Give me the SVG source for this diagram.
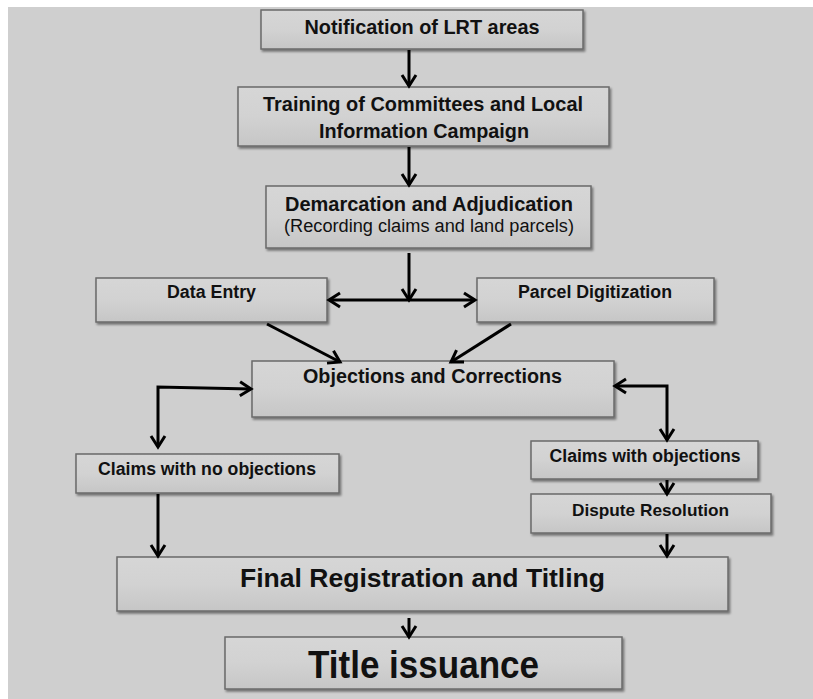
<svg xmlns="http://www.w3.org/2000/svg" width="813" height="699" viewBox="0 0 813 699">
<defs>
<linearGradient id="boxfill" x1="0" y1="0" x2="0" y2="1">
<stop offset="0" stop-color="#d6d6d6"/>
<stop offset="0.5" stop-color="#d2d2d2"/>
<stop offset="1" stop-color="#c6c6c6"/>
</linearGradient>
<filter id="shadow" x="-10%" y="-20%" width="120%" height="150%">
<feDropShadow dx="1.5" dy="2" stdDeviation="1.2" flood-color="#000" flood-opacity="0.45"/>
</filter>
<marker id="arrow" markerUnits="userSpaceOnUse" markerWidth="18" markerHeight="18" viewBox="0 0 18 18" refX="14" refY="9" orient="auto-start-reverse">
<path d="M3,2 L14,9 L3,16" fill="none" stroke="#000" stroke-width="3" stroke-linejoin="miter"/>
</marker>
</defs>
<style>
.box{fill:url(#boxfill);stroke:#6a6a6a;stroke-width:1.5;filter:url(#shadow)}
.t{font-family:"Liberation Sans Narrow","Liberation Sans",sans-serif;font-weight:bold;fill:#111;text-anchor:middle}
.r{font-weight:normal}
.c{fill:none;stroke:#000;stroke-width:3;marker-end:url(#arrow)}
.d{marker-start:url(#arrow)}
</style>
<rect x="8" y="7" width="805" height="692" fill="#cfcfcf"/>

<g id="n1">
<rect class="box" x="261" y="10" width="322" height="39"/>
<text class="t" x="422" y="34" font-size="21" textLength="235" lengthAdjust="spacingAndGlyphs">Notification of LRT areas</text>
</g>
<g id="n2">
<rect class="box" x="238" y="87" width="371" height="59"/>
<text class="t" x="423" y="111" font-size="20" textLength="320" lengthAdjust="spacingAndGlyphs">Training of Committees and Local</text>
<text class="t" x="424" y="138" font-size="20" textLength="210" lengthAdjust="spacingAndGlyphs">Information Campaign</text>
</g>
<g id="n3">
<rect class="box" x="266" y="186" width="325" height="62"/>
<text class="t" x="429" y="211" font-size="20" textLength="288" lengthAdjust="spacingAndGlyphs">Demarcation and Adjudication</text>
<text class="t r" x="429" y="232" font-size="18" textLength="290" lengthAdjust="spacingAndGlyphs">(Recording claims and land parcels)</text>
</g>
<g id="n4">
<rect class="box" x="96" y="278" width="231" height="44"/>
<text class="t" x="211.5" y="298" font-size="18" textLength="89" lengthAdjust="spacingAndGlyphs">Data Entry</text>
</g>
<g id="n5">
<rect class="box" x="477" y="278" width="237" height="44"/>
<text class="t" x="595" y="298" font-size="18" textLength="154" lengthAdjust="spacingAndGlyphs">Parcel Digitization</text>
</g>
<g id="n6">
<rect class="box" x="252" y="361" width="362" height="56"/>
<text class="t" x="432.5" y="383" font-size="20" textLength="259" lengthAdjust="spacingAndGlyphs">Objections and Corrections</text>
</g>
<g id="n7">
<rect class="box" x="76" y="454" width="263" height="39"/>
<text class="t" x="207" y="475" font-size="18" textLength="218" lengthAdjust="spacingAndGlyphs">Claims with no objections</text>
</g>
<g id="n8">
<rect class="box" x="531" y="441" width="227" height="38"/>
<text class="t" x="645" y="462" font-size="18" textLength="191" lengthAdjust="spacingAndGlyphs">Claims with objections</text>
</g>
<g id="n9">
<rect class="box" x="531" y="494" width="240" height="39"/>
<text class="t" x="650.5" y="516" font-size="17" textLength="157" lengthAdjust="spacingAndGlyphs">Dispute Resolution</text>
</g>
<g id="n10">
<rect class="box" x="117" y="557" width="611" height="54"/>
<text class="t" x="422.5" y="587" font-size="25" textLength="365" lengthAdjust="spacingAndGlyphs">Final Registration and Titling</text>
</g>
<g id="n11">
<rect class="box" x="225" y="637" width="397" height="52"/>
<text class="t" x="423.5" y="678" font-size="39" textLength="231" lengthAdjust="spacingAndGlyphs">Title issuance</text>
</g>

<g id="connectors">
<path class="c" d="M409,50 V86"/>
<path class="c" d="M409,147 V185"/>
<path class="c" d="M409,253 V300"/>
<path class="c d" d="M329,300 H475" stroke-width="3.5"/>
<path class="c" d="M267,324 L340,362"/>
<path class="c" d="M511,324 L451,362"/>
<path class="c d" d="M158,447 V387 L251,389"/>
<path class="c d" d="M667,440 V386 H615"/>
<path class="c" d="M158,494 V556"/>
<path class="c" d="M667,480 V494"/>
<path class="c" d="M667,534 V556"/>
<path class="c" d="M409,618 V637" stroke-width="2.5"/>
</g>
</svg>
